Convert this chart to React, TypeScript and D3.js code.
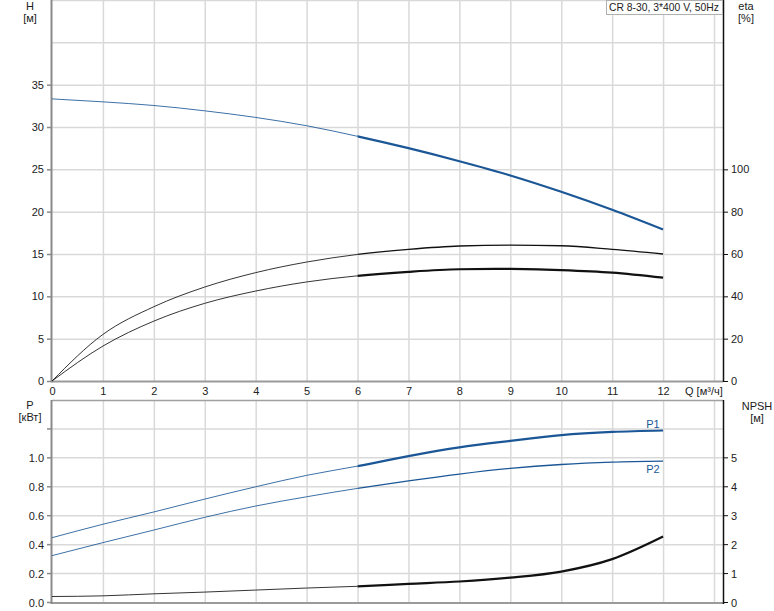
import React from "react";
import * as d3 from "d3";

const Q = [0, 1, 2, 3, 4, 5, 6, 7, 8, 9, 10, 11, 12];
const H = [33.32, 32.97, 32.54, 31.91, 31.13, 30.15, 28.9, 27.5, 25.96, 24.28, 22.35, 20.22, 17.89];
const ETA_UPPER = [0, 22.0, 35.1, 44.4, 51.2, 56.2, 59.8, 62.2, 63.8, 64.2, 63.9, 62.2, 60.0];
const ETA_LOWER = [0, 16.5, 28.3, 36.7, 42.5, 46.8, 49.7, 51.6, 52.8, 53.0, 52.4, 51.2, 48.8];
const P1 = [0.448, 0.541, 0.626, 0.715, 0.8, 0.879, 0.943, 1.012, 1.072, 1.117, 1.157, 1.179, 1.189];
const P2 = [0.324, 0.414, 0.501, 0.589, 0.667, 0.731, 0.789, 0.841, 0.888, 0.927, 0.954, 0.97, 0.977];
const NPSH = [0.207, 0.23, 0.3, 0.36, 0.43, 0.5, 0.56, 0.645, 0.725, 0.86, 1.07, 1.5, 2.28];

const Q_TICKS = [0, 1, 2, 3, 4, 5, 6, 7, 8, 9, 10, 11, 12];
const H_TICKS = [0, 5, 10, 15, 20, 25, 30, 35];
const ETA_TICKS = [0, 20, 40, 60, 80, 100];
const P_TICKS = [0.0, 0.2, 0.4, 0.6, 0.8, 1.0];
const NPSH_TICKS = [0, 1, 2, 3, 4, 5];

const TITLE = "CR 8-30, 3*400 V, 50Hz";
const OP_START = 6;

const FONT = "'Liberation Sans', Arial, sans-serif";
const BLUE = "#1b5796";
const GRID = "#d9d9d9";

export default function App() {
  const x = d3.scaleLinear().domain([0, 13]).range([52, 714]);
  const xRight = 723;
  const yH = d3.scaleLinear().domain([0, 45]).range([381, 0]);
  const yEta = d3.scaleLinear().domain([0, 180]).range([381, 0]);
  const yP = d3.scaleLinear().domain([0, 1.4]).range([602.5, 400]);
  const yN = d3.scaleLinear().domain([0, 7]).range([602.5, 400]);

  const mk = (vals: number[], ys: d3.ScaleLinear<number, number>) => {
    const pts = Q.map((q, i) => [q, vals[i]] as [number, number]);
    return d3
      .line<[number, number]>()
      .x((d) => x(d[0]))
      .y((d) => ys(d[1]))
      .curve(d3.curveMonotoneX)(pts) as string;
  };

  const xs = x(OP_START);

  const curve = (vals: number[], ys: any, color: string, thinW: number, thickW: number, key: string) => {
    const d = mk(vals, ys);
    return (
      <g key={key}>
        <path d={d} fill="none" stroke={color} strokeWidth={thinW} strokeOpacity={0.85} clipPath="url(#clipThin)" />
        <path d={d} fill="none" stroke={color} strokeWidth={thickW} clipPath="url(#clipThick)" />
      </g>
    );
  };

  const hGridTop = [5, 10, 15, 20, 25, 30, 35, 40, 45];
  const hGridBot = [0.2, 0.4, 0.6, 0.8, 1.0, 1.2];
  const vGrid = [1, 2, 3, 4, 5, 6, 7, 8, 9, 10, 11, 12, 13];

  return (
    <div style={{ position: "absolute", left: 0, top: 0 }}>
      <svg width={774} height={611} style={{ display: "block", fontFamily: FONT }}>
        <defs>
          <clipPath id="clipThin">
            <rect x={0} y={0} width={xs} height={611} />
          </clipPath>
          <clipPath id="clipThick">
            <rect x={xs} y={0} width={774 - xs} height={611} />
          </clipPath>
        </defs>
        <rect x={0} y={0} width={774} height={611} fill="#fff" />
        {hGridTop.map((v) => (
          <line key={"ht" + v} x1={52} x2={xRight} y1={yH(v) + 0.5} y2={yH(v) + 0.5} stroke={GRID} strokeWidth={1.5} />
        ))}
        {vGrid.map((v) => (
          <line key={"vt" + v} x1={x(v) + 0.5} x2={x(v) + 0.5} y1={0} y2={381} stroke={GRID} strokeWidth={1.5} />
        ))}
        {hGridBot.map((v) => (
          <line key={"hb" + v} x1={52} x2={xRight} y1={yP(v)} y2={yP(v)} stroke={GRID} strokeWidth={1.5} />
        ))}
        {vGrid.map((v) => (
          <line key={"vb" + v} x1={x(v) + 0.5} x2={x(v) + 0.5} y1={400} y2={602} stroke={GRID} strokeWidth={1.5} />
        ))}

        <line x1={52} x2={xRight} y1={381.5} y2={381.5} stroke="#9a9a9a" strokeWidth={2} />
        <line x1={51.5} x2={51.5} y1={0} y2={382.5} stroke="#8a8a8a" strokeWidth={2} />
        <line x1={xRight + 0.5} x2={xRight + 0.5} y1={0} y2={382} stroke="#111" strokeWidth={1.5} />
        <line x1={52} x2={xRight} y1={400.5} y2={400.5} stroke="#a0a0a0" strokeWidth={1.5} />
        <line x1={52} x2={xRight} y1={603} y2={603} stroke="#9a9a9a" strokeWidth={2} />
        <line x1={51.5} x2={51.5} y1={400} y2={604} stroke="#8a8a8a" strokeWidth={2} />
        <line x1={xRight + 0.5} x2={xRight + 0.5} y1={400} y2={604} stroke="#111" strokeWidth={1.5} />

        {H_TICKS.map((v) => (
          <g key={"lh" + v}>
            <line x1={47} x2={51} y1={yH(v) + 0.5} y2={yH(v) + 0.5} stroke="#8a8a8a" strokeWidth={1.5} />
            <text x={44} y={yH(v) + 4} textAnchor="end" fontSize={11} fill="#222">
              {v}
            </text>
          </g>
        ))}
        {ETA_TICKS.map((v) => (
          <g key={"re" + v}>
            <line x1={xRight} x2={xRight + 5} y1={yEta(v) + 0.5} y2={yEta(v) + 0.5} stroke="#111" strokeWidth={1} />
            <text x={731} y={yEta(v) + 4} textAnchor="start" fontSize={11} fill="#222">
              {v}
            </text>
          </g>
        ))}
        {[...P_TICKS, 1.2].map((v) => (
          <line key={"lpt" + v} x1={47} x2={51} y1={yP(v)} y2={yP(v)} stroke="#8a8a8a" strokeWidth={1.5} />
        ))}
        {P_TICKS.map((v) => (
          <text key={"lp" + v} x={44} y={yP(v) + 4} textAnchor="end" fontSize={11} fill="#222">
            {v.toFixed(1)}
          </text>
        ))}
        {NPSH_TICKS.map((v) => (
          <g key={"rn" + v}>
            <line x1={xRight} x2={xRight + 5} y1={yN(v)} y2={yN(v)} stroke="#111" strokeWidth={1} />
            <text x={731} y={yN(v) + 4} textAnchor="start" fontSize={11} fill="#222">
              {v}
            </text>
          </g>
        ))}
        {Q_TICKS.map((v) => (
          <text key={"q" + v} x={x(v) + 0.5} y={395} textAnchor="middle" fontSize={11} fill="#222">
            {v}
          </text>
        ))}
        <text x={685} y={395} fontSize={11} fill="#222">
          Q [м³/ч]
        </text>

        <text x={30} y={10} textAnchor="middle" fontSize={11} fill="#222">H</text>
        <text x={30} y={22} textAnchor="middle" fontSize={11} fill="#222">[м]</text>
        <text x={746} y={10} textAnchor="middle" fontSize={11} fill="#222">eta</text>
        <text x={746} y={22} textAnchor="middle" fontSize={11} fill="#222">[%]</text>
        <text x={30} y={409} textAnchor="middle" fontSize={11} fill="#222">P</text>
        <text x={30} y={421} textAnchor="middle" fontSize={11} fill="#222">[кВт]</text>
        <text x={757} y={410} textAnchor="middle" fontSize={11} fill="#222">NPSH</text>
        <text x={757} y={422} textAnchor="middle" fontSize={11} fill="#222">[м]</text>

        {curve(H, yH, BLUE, 1, 2.2, "h")}
        {curve(ETA_UPPER, yEta, "#111", 1, 1.4, "eu")}
        {curve(ETA_LOWER, yEta, "#111", 1, 2.2, "el")}
        {curve(P1, yP, BLUE, 1, 2.2, "p1")}
        {curve(P2, yP, BLUE, 1, 1.3, "p2")}
        {curve(NPSH, yN, "#111", 1, 2.2, "n")}

        <text x={653} y={428} textAnchor="middle" fontSize={11} fill={BLUE}>P1</text>
        <text x={653} y={473} textAnchor="middle" fontSize={11} fill={BLUE}>P2</text>

        <rect x={606.5} y={0.5} width={116} height={14} fill="#fff" stroke="#b0b0b0" strokeWidth={1} />
        <text x={609} y={11} fontSize={10.5} textLength={110} lengthAdjust="spacingAndGlyphs" fill="#222">
          {TITLE}
        </text>
      </svg>
    </div>
  );
}
